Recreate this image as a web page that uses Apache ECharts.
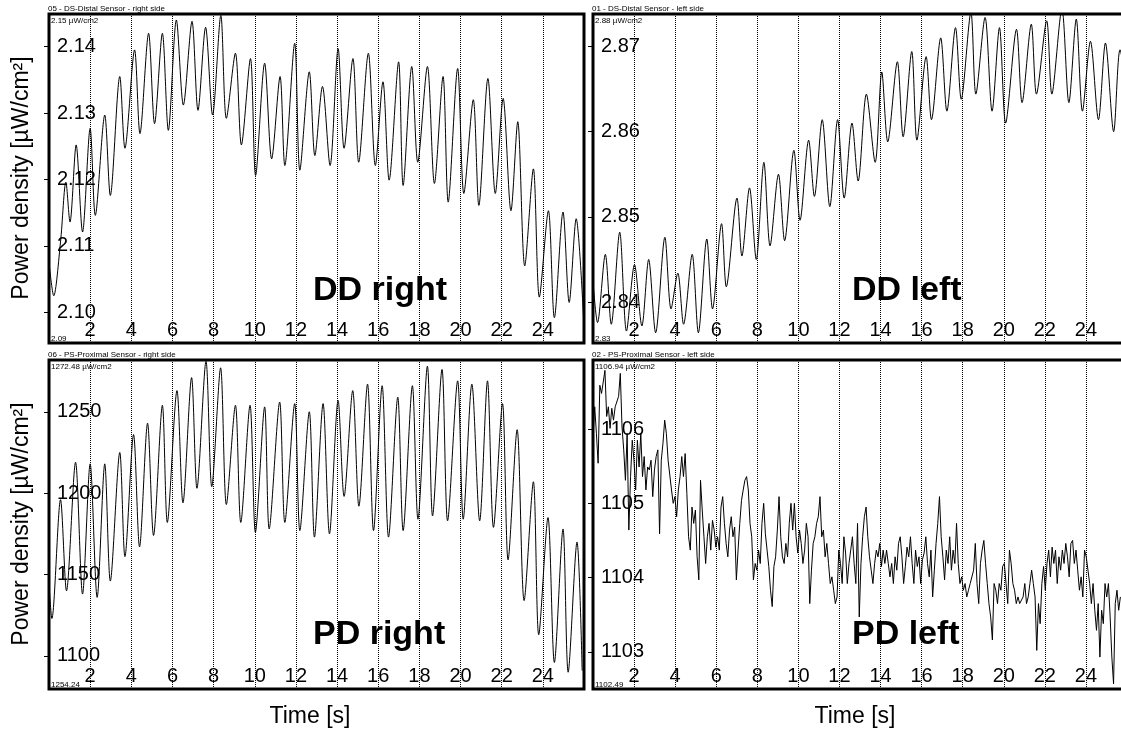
<!DOCTYPE html>
<html><head><meta charset="utf-8">
<script src="https://cdn.jsdelivr.net/npm/echarts@6/dist/echarts.min.js"></script>
<style>html,body{margin:0;padding:0;background:#fff}#c{width:1121px;height:733px}</style>
</head><body><div id="c"></div>
<script>
// ---- DATA ----
const xTicks = [2,4,6,8,10,12,14,16,18,20,22,24];

const ddRightTicks = [2.10,2.11,2.12,2.13,2.14];
const ddRightT = [0.00,0.23,0.56,0.82,1.02,1.32,1.63,2.00,2.25,2.71,2.98,3.44,3.69,4.16,4.42,4.84,5.13,5.51,5.80,6.19,6.53,6.95,7.24,7.61,7.95,8.35,8.62,9.06,9.35,9.79,10.04,10.48,10.82,11.23,11.46,11.94,12.19,12.65,12.92,13.29,13.66,14.05,14.34,14.77,15.05,15.52,15.86,16.23,16.53,16.99,17.21,17.63,17.92,18.39,18.73,19.15,19.40,19.86,20.16,20.62,20.89,21.33,21.69,22.07,22.45,22.78,23.12,23.54,23.83,24.27,24.56,24.98,25.28,25.62,25.99];
const ddRightV = [2.1075,2.1025,2.1106,2.1196,2.1136,2.1252,2.1121,2.1277,2.1146,2.1297,2.1176,2.1355,2.1247,2.1395,2.1269,2.1420,2.1284,2.1420,2.1274,2.1440,2.1312,2.1438,2.1304,2.1429,2.1297,2.1447,2.1292,2.1390,2.1252,2.1382,2.1206,2.1375,2.1231,2.1355,2.1221,2.1405,2.1214,2.1362,2.1236,2.1340,2.1221,2.1397,2.1247,2.1382,2.1226,2.1390,2.1221,2.1347,2.1199,2.1377,2.1191,2.1370,2.1226,2.1370,2.1194,2.1355,2.1166,2.1367,2.1179,2.1320,2.1161,2.1352,2.1179,2.1322,2.1153,2.1287,2.1070,2.1216,2.1023,2.1153,2.0992,2.1151,2.1015,2.1141,2.0985];

const ddLeftTicks = [2.84,2.85,2.86,2.87];
const ddLeftT = [0.00,0.22,0.60,0.89,1.30,1.63,2.02,2.38,2.71,3.05,3.50,3.80,4.13,4.41,4.83,5.13,5.54,5.82,6.26,6.49,7.01,7.25,7.62,7.95,8.32,8.62,9.03,9.33,9.78,10.08,10.50,10.78,11.16,11.53,11.91,12.23,12.61,12.91,13.31,13.74,14.06,14.35,14.82,15.10,15.52,15.77,16.22,16.48,16.93,17.23,17.65,17.93,18.40,18.64,19.09,19.43,19.79,20.09,20.62,20.89,21.34,21.59,22.09,22.34,22.83,23.17,23.53,23.83,24.22,24.61,24.95,25.35,25.66,25.95];
const ddLeftV = [2.8424,2.8376,2.8456,2.8374,2.8482,2.8366,2.8444,2.8372,2.8450,2.8364,2.8476,2.8392,2.8434,2.8374,2.8456,2.8364,2.8474,2.8392,2.8492,2.8418,2.8522,2.8454,2.8534,2.8450,2.8564,2.8466,2.8550,2.8472,2.8578,2.8496,2.8590,2.8524,2.8614,2.8512,2.8614,2.8522,2.8610,2.8542,2.8644,2.8564,2.8670,2.8588,2.8682,2.8594,2.8694,2.8590,2.8688,2.8614,2.8710,2.8624,2.8722,2.8638,2.8740,2.8644,2.8734,2.8624,2.8722,2.8610,2.8720,2.8634,2.8726,2.8644,2.8730,2.8644,2.8744,2.8634,2.8732,2.8624,2.8706,2.8614,2.8704,2.8600,2.8696,2.8660];

const pdRightTicks = [1100,1150,1200,1250];
const pdRightT = [0.00,0.14,0.56,0.85,1.29,1.63,2.00,2.34,2.71,2.98,3.44,3.69,4.11,4.40,4.79,5.08,5.51,5.75,6.22,6.51,6.93,7.19,7.63,7.91,8.34,8.62,9.06,9.32,9.77,10.03,10.48,10.70,11.21,11.46,11.94,12.19,12.65,12.90,13.32,13.63,14.05,14.34,14.76,15.06,15.48,15.77,16.19,16.50,16.95,17.21,17.66,17.93,18.39,18.64,19.10,19.37,19.86,20.13,20.55,20.93,21.31,21.60,22.04,22.31,22.75,23.09,23.54,23.80,24.25,24.56,24.98,25.23,25.66,25.91];
const pdRightV = [1144,1123,1196,1140,1219,1138,1218,1136,1218,1146,1225,1161,1236,1167,1243,1174,1254,1182,1263,1194,1271,1203,1281,1204,1277,1193,1254,1182,1254,1176,1253,1178,1256,1182,1255,1177,1250,1173,1255,1175,1257,1198,1263,1192,1267,1177,1266,1173,1259,1177,1266,1184,1278,1186,1276,1183,1269,1184,1267,1183,1269,1179,1255,1159,1239,1134,1207,1113,1185,1096,1178,1090,1170,1091];

const pdLeftTicks = [1103,1104,1105,1106];
const pdLeftDt = 0.0831; // sampling step of the read-off samples [s]
const pdLeftV = [1105.90,1106.30,1105.94,1105.54,1106.59,1106.48,1106.48,1106.79,1106.17,1106.30,1106.01,1106.28,1106.12,1106.30,1106.30,1106.44,1106.75,1106.03,1105.72,1105.31,1105.94,1104.64,1105.36,1105.85,1105.58,1105.18,1105.85,1105.49,1105.94,1105.36,1105.63,1105.18,1105.49,1105.45,1105.58,1105.09,1105.45,1105.63,1105.72,1104.59,1105.58,1105.81,1106.12,1105.94,1105.58,1105.58,1105.18,1105.00,1105.09,1104.82,1105.18,1105.36,1105.63,1105.36,1105.67,1105.13,1104.55,1104.37,1104.95,1104.73,1104.91,1104.28,1103.97,1105.31,1104.91,1104.55,1104.19,1104.55,1104.73,1104.37,1104.77,1104.64,1104.41,1104.55,1104.37,1104.95,1105.09,1104.73,1104.46,1104.28,1104.64,1104.82,1104.55,1104.68,1103.97,1104.37,1104.73,1105.04,1105.18,1105.31,1105.36,1105.18,1104.73,1104.55,1103.97,1104.19,1104.10,1104.37,1104.19,1104.73,1105.00,1104.59,1104.37,1104.15,1103.83,1103.61,1104.15,1104.28,1104.64,1105.09,1104.55,1104.28,1104.19,1104.46,1104.28,1104.73,1105.00,1104.64,1105.00,1104.55,1104.33,1104.64,1104.46,1104.19,1104.37,1104.73,1104.55,1103.65,1104.10,1104.46,1104.55,1104.73,1104.82,1105.09,1104.55,1104.64,1104.28,1104.46,1104.19,1103.92,1104.01,1103.83,1103.65,1103.74,1104.37,1104.19,1103.92,1104.55,1104.33,1103.92,1104.19,1104.37,1104.55,1104.19,1103.92,1104.73,1103.47,1104.19,1104.55,1104.82,1104.95,1104.55,1104.28,1104.10,1103.92,1104.19,1104.37,1104.28,1104.46,1104.15,1104.37,1104.19,1104.37,1104.19,1104.01,1104.19,1103.92,1104.28,1104.10,1104.46,1104.55,1104.28,1103.92,1104.15,1104.41,1104.28,1104.55,1104.19,1103.92,1104.37,1104.15,1104.28,1103.92,1104.24,1104.33,1104.55,1104.19,1104.01,1104.37,1103.74,1104.10,1104.46,1104.73,1105.09,1104.55,1104.28,1103.97,1104.37,1104.19,1104.55,1104.10,1104.37,1104.19,1104.73,1104.19,1103.92,1104.01,1103.83,1103.92,1103.74,1103.83,1103.92,1103.92,1104.10,1104.46,1103.92,1103.65,1104.19,1104.37,1104.50,1104.19,1103.92,1103.65,1103.47,1103.16,1103.92,1103.83,1103.65,1103.92,1103.83,1104.15,1104.19,1103.92,1103.65,1104.37,1104.19,1103.92,1103.83,1103.65,1103.74,1103.65,1103.65,1103.74,1103.92,1103.65,1103.74,1103.92,1104.10,1103.92,1103.74,1103.02,1103.65,1103.38,1103.92,1104.15,1103.83,1104.19,1104.37,1104.01,1104.41,1104.19,1104.37,1103.92,1104.28,1104.10,1104.37,1104.19,1104.46,1104.28,1104.01,1104.46,1104.50,1104.19,1104.37,1104.10,1103.83,1104.01,1103.74,1104.37,1104.28,1104.10,1103.92,1103.65,1103.92,1103.56,1103.29,1103.65,1102.93,1103.56,1103.38,1103.92,1103.74,1103.92,1103.47,1102.93,1102.57,1103.65,1103.83,1103.56,1103.74];

// ---- CHART ----
const FONT = 'Arial, "Liberation Sans", sans-serif';
const pdLeftT = pdLeftV.map((_, i) => i * pdLeftDt);

const panels = [
  {t: ddRightT, v: ddRightV, ticks: ddRightTicks, dec: 2, min: 2.0954, max: 2.1449, left: 49, top: 14, width: 535, smooth: 0.3},
  {t: ddLeftT, v: ddLeftV, ticks: ddLeftTicks, dec: 2, min: 2.8352, max: 2.8738, left: 593, top: 14, width: 534, smooth: 0.3},
  {t: pdRightT, v: pdRightV, ticks: pdRightTicks, dec: 0, min: 1079.7, max: 1281.8, left: 49, top: 360, width: 535, smooth: 0.3},
  {t: pdLeftT, v: pdLeftV, ticks: pdLeftTicks, dec: 0, min: 1102.50, max: 1106.93, left: 593, top: 360, width: 534, smooth: false}
];

const grid = [], xAxis = [], yAxis = [], series = [];
panels.forEach((p, i) => {
  grid.push({left: p.left, top: p.top, width: p.width, height: 329, show: true,
    outerBoundsMode: 'none',
    borderColor: '#000', borderWidth: 3, backgroundColor: 'transparent', containLabel: false});
  xAxis.push({gridIndex: i, type: 'value', min: 0, max: 26, interval: 2,
    axisLine: {show: false}, axisTick: {show: false},
    axisLabel: {inside: true, margin: 3, fontSize: 20, fontFamily: FONT, color: '#000',
      showMinLabel: false, showMaxLabel: false,
      formatter: v => (v === 0 || v === 26) ? '' : String(v)},
    splitLine: {show: true, lineStyle: {type: 'dotted', color: '#000', width: 1}}});
  yAxis.push({gridIndex: i, type: 'value', min: p.min, max: p.max,
    axisLine: {show: false}, splitLine: {show: false},
    axisTick: {show: true, customValues: p.ticks, length: 5, lineStyle: {color: '#000', width: 1}},
    axisLabel: {inside: true, customValues: p.ticks, margin: 8, fontSize: 20, fontFamily: FONT, color: '#000',
      formatter: v => Number(v).toFixed(p.dec)}});
  series.push({type: 'line', xAxisIndex: i, yAxisIndex: i, symbol: 'none', clip: true, smooth: p.smooth,
    lineStyle: {color: '#000', width: 1}, data: p.t.map((x, j) => [x, p.v[j]])});
});

function stxt(x, y, text, size, styleExtra, extra) {
  const e = Object.assign({type: 'text', x: x, y: y, z: 100,
    style: Object.assign({text: text, fontSize: size, fontFamily: FONT, fill: '#000', align: 'left', verticalAlign: 'middle'}, styleExtra || {})}, extra || {});
  return e;
}

const graphic = [
  stxt(48, 9, '05 - DS-Distal Sensor - right side', 8),
  stxt(592, 9, '01 - DS-Distal Sensor - left side', 8),
  stxt(48, 355, '06 - PS-Proximal Sensor - right side', 8),
  stxt(592, 355, '02 - PS-Proximal Sensor - left side', 8),
  stxt(51, 21, '2.15 µW/cm2', 8),
  stxt(595, 21, '2.88 µW/cm2', 8),
  stxt(51, 367, '1272.48 µW/cm2', 8),
  stxt(595, 367, '1106.94 µW/cm2', 8),
  stxt(51, 339, '2.09', 8),
  stxt(595, 339, '2.83', 8),
  stxt(51, 685, '1254.24', 8),
  stxt(595, 685, '1102.49', 8),
  stxt(313, 291, 'DD right', 34, {fontWeight: 'bold'}),
  stxt(852, 291, 'DD left', 34, {fontWeight: 'bold'}),
  stxt(313, 635, 'PD right', 34, {fontWeight: 'bold'}),
  stxt(852, 635, 'PD left', 34, {fontWeight: 'bold'}),
  stxt(22, 178, 'Power density [µW/cm²]', 23, {align: 'center'}, {rotation: Math.PI / 2}),
  stxt(22, 524, 'Power density [µW/cm²]', 23, {align: 'center'}, {rotation: Math.PI / 2}),
  stxt(310, 717, 'Time [s]', 23, {align: 'center'}),
  stxt(855, 717, 'Time [s]', 23, {align: 'center'})
];

const chart = echarts.init(document.getElementById('c'), null, {renderer: 'canvas'});
chart.setOption({animation: false, backgroundColor: '#fff', grid, xAxis, yAxis, series, graphic});
</script>
</body></html>
